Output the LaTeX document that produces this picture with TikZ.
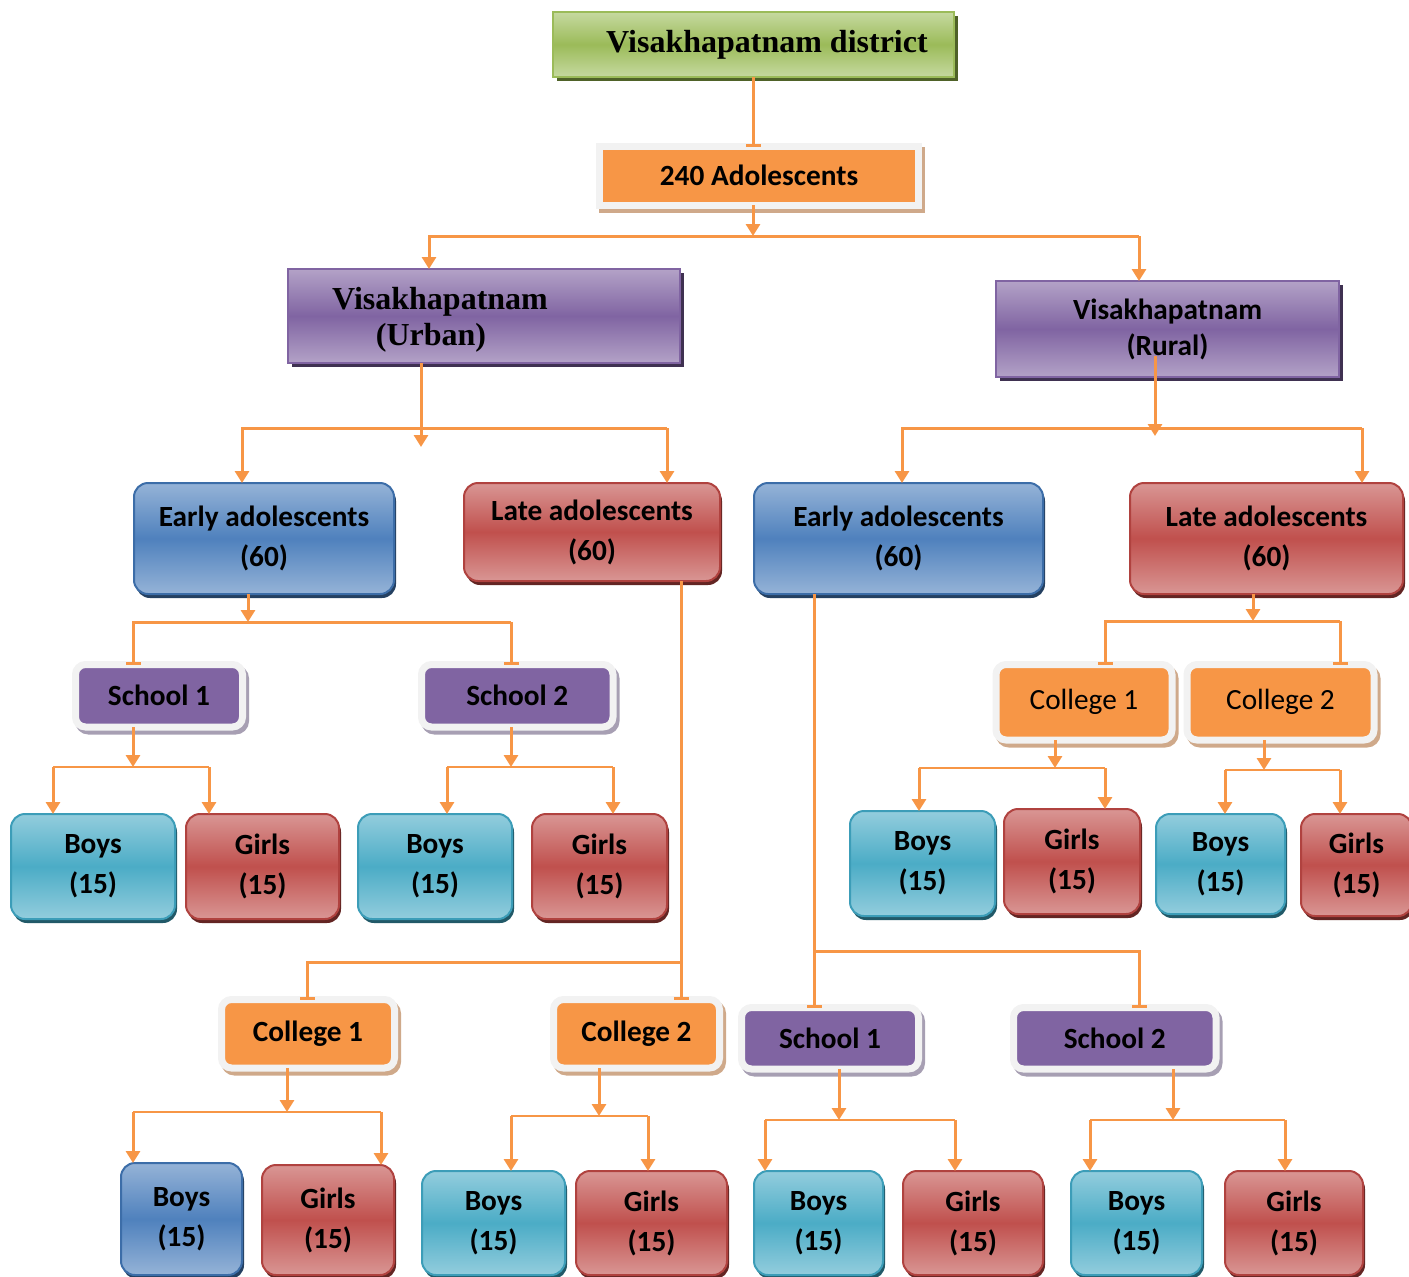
\documentclass[tikz,border=0pt]{standalone}
\usepackage{fontspec}
\setmainfont{Carlito}
\newfontfamily\tnr{Liberation Serif}
\usetikzlibrary{arrows.meta,shadows,calc}
\definecolor{org}{HTML}{F79646}
\definecolor{grnlt}{HTML}{C6D9A0}
\definecolor{grnmid}{HTML}{9BBB59}
\definecolor{grnshd}{HTML}{4F6228}
\definecolor{purlt}{HTML}{B3A2C7}
\definecolor{purmid}{HTML}{8064A2}
\definecolor{purshd}{HTML}{3F3151}
\definecolor{bluelt}{HTML}{95B3D7}
\definecolor{bluemid}{HTML}{4F81BD}
\definecolor{bluedk}{HTML}{3C6DA8}
\definecolor{blueshd}{HTML}{244061}
\definecolor{redlt}{HTML}{D99694}
\definecolor{redmid}{HTML}{C0504D}
\definecolor{reddk}{HTML}{B0423F}
\definecolor{redshd}{HTML}{632523}
\definecolor{cyanlt}{HTML}{93CDDD}
\definecolor{cyanmid}{HTML}{4BACC6}
\definecolor{cyandk}{HTML}{3C9DB8}
\definecolor{cyanshd}{HTML}{215968}
\definecolor{frame}{HTML}{F2F2F2}
\definecolor{tanshd}{HTML}{CFA98A}
\definecolor{grayshd}{HTML}{A79FB3}
\newcommand\mybox[7]{\node[#1, minimum width=#5pt-#3pt, minimum height=#6pt-#4pt] (#2) at ({(#3+#5)/2},{(#4+#6)/2}) {#7};}
\tikzset{
  ln/.style={draw=org, line width=3pt},
  thinln/.style={draw=org, line width=2pt},
  arr/.style={ln, -{Triangle[width=14pt,length=12pt]}},
  barr/.style={ln, -{Bar[width=15pt]}},
  bx/.style={inner sep=0pt, outer sep=0pt, font=\fontsize{29.3}{40}\selectfont\bfseries, align=center},
  gbox/.style={bx, rounded corners=14pt, line width=2pt},
  bluebox/.style={gbox, draw=bluedk, top color=bluelt, bottom color=bluelt, middle color=bluemid,
     general shadow={fill=blueshd, shadow xshift=2pt, shadow yshift=-4pt}},
  redbox/.style={gbox, draw=reddk, top color=redlt, bottom color=redlt, middle color=redmid,
     general shadow={fill=redshd, shadow xshift=2pt, shadow yshift=-4pt}},
  cyanbox/.style={gbox, draw=cyandk, top color=cyanlt, bottom color=cyanlt, middle color=cyanmid,
     general shadow={fill=cyanshd, shadow xshift=2pt, shadow yshift=-4pt}},
  framed/.style={bx, rounded corners=10pt, draw=frame, line width=7pt},
  schoolbox/.style={framed, fill=purmid,
     general shadow={fill=grayshd, draw=grayshd, line width=7pt, shadow xshift=3pt, shadow yshift=-4pt}},
  collbox/.style={framed, fill=org,
     general shadow={fill=tanshd, draw=tanshd, line width=7pt, shadow xshift=3pt, shadow yshift=-4pt}},
  distbox/.style={bx, draw=grnmid, line width=2pt, top color=grnlt, bottom color=grnlt, middle color=grnmid,
     general shadow={fill=grnshd, shadow xshift=4pt, shadow yshift=-4pt},
     font=\tnr\fontsize{32}{36}\selectfont\bfseries},
  adobox/.style={bx, fill=org, draw=frame, line width=7pt,
     general shadow={fill=tanshd, draw=tanshd, line width=7pt, shadow xshift=3pt, shadow yshift=-4pt}},
  areabox/.style={bx, draw=purmid, line width=2pt, top color=purlt, bottom color=purlt, middle color=purmid,
     general shadow={fill=purshd, shadow xshift=4pt, shadow yshift=-4pt}},
}
\begin{document}
\begin{tikzpicture}[x=1pt,y=-1pt]
\useasboundingbox (0,0) rectangle (1409,1277);

% ---------- boxes ----------
\mybox{distbox}{dist}{553}{12}{954}{77}{\hspace*{27pt}Visakhapatnam district}
\mybox{adobox}{ado}{599.5}{146.5}{918.5}{205}{240 Adolescents}
\mybox{areabox, label={[font=\tnr\fontsize{32}{36}\selectfont\bfseries, align=center, xshift=-44pt, yshift=-4pt]center:{Visakhapatnam\\(Urban)\hspace*{18pt}}}}{urb}{288}{269}{680}{363}{}
\mybox{areabox, font=\fontsize{29.3}{36}\selectfont\bfseries}{rur}{996}{281}{1339}{377}{Visakhapatnam\\(Rural)}

\mybox{bluebox}{ue}{134}{483}{394}{594}{Early adolescents\\(60)}
\mybox{redbox}{ul}{464}{483}{720}{581}{Late adolescents\\(60)}
\mybox{bluebox}{re}{754}{483}{1043}{594}{Early adolescents\\(60)}
\mybox{redbox}{rl}{1130}{483}{1403}{594}{Late adolescents\\(60)}

% urban early: schools
\mybox{schoolbox}{us1}{75.5}{664.5}{242.5}{727}{School 1}
\mybox{schoolbox}{us2}{421.5}{664.5}{613}{727}{School 2}
\mybox{cyanbox}{ub1}{11}{814}{175}{919}{Boys\\(15)}
\mybox{redbox}{ug1}{186}{814}{339}{919}{Girls\\(15)}
\mybox{cyanbox}{ub2}{358}{814}{512}{919}{Boys\\(15)}
\mybox{redbox}{ug2}{532}{814}{667}{919}{Girls\\(15)}

% urban late: colleges
\mybox{collbox}{uc1}{221.5}{999.5}{394.5}{1068}{College 1}
\mybox{collbox}{uc2}{553.5}{999.5}{719.5}{1068}{College 2}
\mybox{bluebox}{ucb1}{121}{1163}{242}{1275}{Boys\\(15)}
\mybox{redbox}{ucg1}{262}{1165}{394}{1275}{Girls\\(15)}
\mybox{cyanbox}{ucb2}{422}{1171}{565}{1275}{Boys\\(15)}
\mybox{redbox}{ucg2}{576}{1171}{727}{1275}{Girls\\(15)}

% rural early: schools
\mybox{schoolbox}{rs1}{741.5}{1007.5}{918.5}{1069}{School 1}
\mybox{schoolbox}{rs2}{1013.5}{1007.5}{1216}{1069}{School 2}
\mybox{cyanbox}{rsb1}{754}{1171}{883}{1275}{Boys\\(15)}
\mybox{redbox}{rsg1}{903}{1171}{1043}{1275}{Girls\\(15)}
\mybox{cyanbox}{rsb2}{1071}{1171}{1202}{1275}{Boys\\(15)}
\mybox{redbox}{rsg2}{1225}{1171}{1363}{1275}{Girls\\(15)}

% rural late: colleges
\mybox{collbox, font=\fontsize{29.3}{40}\selectfont}{rc1}{996}{664.5}{1172}{740}{College 1}
\mybox{collbox, font=\fontsize{29.3}{40}\selectfont}{rc2}{1187}{664.5}{1374}{740}{College 2}
\mybox{cyanbox}{rcb1}{850}{811}{995}{916}{Boys\\(15)}
\mybox{redbox}{rcg1}{1004}{809}{1140}{914}{Girls\\(15)}
\mybox{cyanbox}{rcb2}{1156}{814}{1285}{914}{Boys\\(15)}
\mybox{redbox}{rcg2}{1301}{814}{1412}{916}{Girls\\(15)}

% ---------- connectors ----------
% district -> 240
\coordinate (x0) at (753,0);
\draw[barr] (dist.south -| x0) -- (ado.north -| x0);

% 240 -> urban / rural
\coordinate (j1) at (753,236);
\coordinate (j1l) at (429,236);
\coordinate (j1r) at (1139,236);
\draw[arr] (ado.south -| j1) -- (j1);
\draw[arr] (j1r) -- (j1l) -- (urb.north -| j1l);
\draw[arr] (j1r) -- (rur.north -| j1r);

% urban -> early / late
\coordinate (k1) at (421,447);
\coordinate (k1l) at (242,428);
\coordinate (k1r) at (667,428);
\draw[arr] (urb.south -| k1) -- (k1);
\draw[arr] (k1r) -- (k1l) -- (ue.north -| k1l);
\draw[arr] (k1r) -- (ul.north -| k1r);

% rural -> early / late
\coordinate (k2) at (1155,436);
\coordinate (k2l) at (902,428);
\coordinate (k2r) at (1362,428);
\draw[arr] ($(rur.south -| k2)+(0,-21)$) -- (k2);
\draw[arr] (k2r) -- (k2l) -- (re.north -| k2l);
\draw[arr] (k2r) -- (rl.north -| k2r);

% urban early -> schools
\coordinate (a1) at (248,622);
\coordinate (a1l) at (133,622);
\coordinate (a1r) at (511,622);
\draw[arr] (ue.south -| a1) -- (a1);
\draw[barr] (a1r) -- (a1l) -- (us1.north -| a1l);
\draw[barr] (a1r) -- (us2.north -| a1r);

% urban school 1 -> boys / girls
\coordinate (b1) at (133,767);
\coordinate (b1l) at (53,767);
\coordinate (b1r) at (209,767);
\draw[arr] (us1.south -| b1) -- (b1);
\draw[thinln] (b1l) -- (b1r);
\draw[arr] (b1l) -- (ub1.north -| b1l);
\draw[arr] (b1r) -- (ug1.north -| b1r);

% urban school 2 -> boys / girls
\coordinate (b2) at (511,767);
\coordinate (b2l) at (447,767);
\coordinate (b2r) at (613,767);
\draw[arr] (us2.south -| b2) -- (b2);
\draw[thinln] (b2l) -- (b2r);
\draw[arr] (b2l) -- (ub2.north -| b2l);
\draw[arr] (b2r) -- (ug2.north -| b2r);

% urban late -> colleges
\coordinate (m1) at (681,962);
\coordinate (m1l) at (307,962);
\draw[barr] (ul.south -| m1) -- (uc2.north -| m1);
\draw[barr] (m1) -- (m1l) -- (uc1.north -| m1l);

% urban college 1 -> boys / girls
\coordinate (c1) at (287,1112);
\coordinate (c1l) at (133,1112);
\coordinate (c1r) at (381,1112);
\draw[arr] (uc1.south -| c1) -- (c1);
\draw[thinln] (c1l) -- (c1r);
\draw[arr] (c1l) -- (ucb1.north -| c1l);
\draw[arr] (c1r) -- (ucg1.north -| c1r);

% urban college 2 -> boys / girls
\coordinate (c2) at (599,1116);
\coordinate (c2l) at (511,1116);
\coordinate (c2r) at (648,1116);
\draw[arr] (uc2.south -| c2) -- (c2);
\draw[thinln] (c2l) -- (c2r);
\draw[arr] (c2l) -- (ucb2.north -| c2l);
\draw[arr] (c2r) -- (ucg2.north -| c2r);

% rural early -> schools
\coordinate (n1) at (814,951);
\coordinate (n1r) at (1139,951);
\draw[barr] (re.south -| n1) -- (rs1.north -| n1);
\draw[barr] (n1) -- (n1r) -- (rs2.north -| n1r);

% rural school 1 -> boys / girls
\coordinate (d1) at (839,1120);
\coordinate (d1l) at (765,1120);
\coordinate (d1r) at (955,1120);
\draw[arr] (rs1.south -| d1) -- (d1);
\draw[thinln] (d1l) -- (d1r);
\draw[arr] (d1l) -- (rsb1.north -| d1l);
\draw[arr] (d1r) -- (rsg1.north -| d1r);

% rural school 2 -> boys / girls
\coordinate (d2) at (1173,1120);
\coordinate (d2l) at (1090,1120);
\coordinate (d2r) at (1285,1120);
\draw[arr] (rs2.south -| d2) -- (d2);
\draw[thinln] (d2l) -- (d2r);
\draw[arr] (d2l) -- (rsb2.north -| d2l);
\draw[arr] (d2r) -- (rsg2.north -| d2r);

% rural late -> colleges
\coordinate (e1) at (1253,621);
\coordinate (e1l) at (1105,621);
\coordinate (e1r) at (1340,621);
\draw[arr] (rl.south -| e1) -- (e1);
\draw[barr] (e1r) -- (e1l) -- (rc1.north -| e1l);
\draw[barr] (e1r) -- (rc2.north -| e1r);

% rural college 1 -> boys / girls
\coordinate (f1) at (1055,768);
\coordinate (f1l) at (919,768);
\coordinate (f1r) at (1105,768);
\draw[arr] (rc1.south -| f1) -- (f1);
\draw[thinln] (f1l) -- (f1r);
\draw[arr] (f1l) -- (rcb1.north -| f1l);
\draw[arr] (f1r) -- (rcg1.north -| f1r);

% rural college 2 -> boys / girls
\coordinate (f2) at (1264,770);
\coordinate (f2l) at (1225,770);
\coordinate (f2r) at (1340,770);
\draw[arr] (rc2.south -| f2) -- (f2);
\draw[thinln] (f2l) -- (f2r);
\draw[arr] (f2l) -- (rcb2.north -| f2l);
\draw[arr] (f2r) -- (rcg2.north -| f2r);
\end{tikzpicture}
\end{document}
